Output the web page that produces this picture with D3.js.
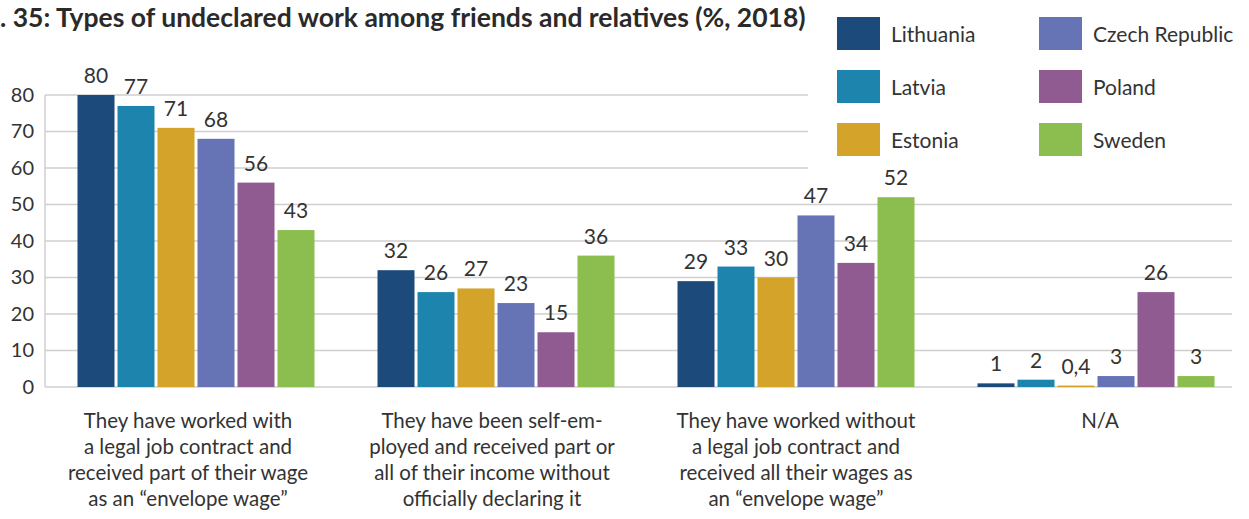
<!DOCTYPE html>
<html><head><meta charset="utf-8">
<script src="https://cdn.jsdelivr.net/npm/d3@7"></script>
<style>body{margin:0;background:#fff;}svg{display:block;font-family:Lato,"Noto Sans",sans-serif;}</style>
</head><body><svg id="c" width="1249" height="519"></svg>
<script>
const title = ". 35: Types of undeclared work among friends and relatives (%, 2018)";
const categories = [
  ["They have worked with","a legal job contract and","received part of their wage","as an \u201cenvelope wage\u201d"],
  ["They have been self-em-","ployed and received part or","all of their income without","officially declaring it"],
  ["They have worked without","a legal job contract and","received all their wages as","an \u201cenvelope wage\u201d"],
  ["N/A"]
];
const countries = ["Lithuania","Latvia","Estonia","Czech Republic","Poland","Sweden"];
const colors = ["#1c4a7a","#1d84ad","#d3a429","#6673b5","#905b90","#8cbd4f"];
const lithuania = [80,32,29,1];
const latvia = [77,26,33,2];
const estonia = [71,27,30,0.4];
const czech = [68,23,47,3];
const poland = [56,15,34,26];
const sweden = [43,36,52,3];
const valueLabels = [
  ["80","32","29","1"],["77","26","33","2"],["71","27","30","0,4"],
  ["68","23","47","3"],["56","15","34","26"],["43","36","52","3"]
];
const yTicks = [0,10,20,30,40,50,60,70,80];

const series = [lithuania,latvia,estonia,czech,poland,sweden];
const svg = d3.select("#c");
const x0 = d3.scaleBand().domain(d3.range(categories.length)).range([46,1246]).paddingInner(0).paddingOuter(0);
const xl = d3.scaleBand().domain(d3.range(categories.length)).range([36,1252]);
const groupW = 237;
const x1 = d3.scaleBand().domain(d3.range(countries.length)).range([0,groupW]).paddingInner(3/40).paddingOuter(0);
const y = d3.scaleLinear().domain([0,80]).range([387,95]);

// grid
const grid = svg.append("g");
grid.selectAll("line").data(yTicks).join("line")
  .attr("x1",45).attr("x2",1232)
  .attr("y1",d=>y(d)).attr("y2",d=>y(d))
  .attr("stroke","#cfcfcf").attr("stroke-width",1.5);
grid.append("line").attr("x1",45).attr("x2",45).attr("y1",y(80)).attr("y2",y(0)).attr("stroke","#cfcfcf").attr("stroke-width",1.5);

// legend background (covers gridlines)
svg.append("rect").attr("x",808).attr("y",0).attr("width",441).attr("height",172).attr("fill","#fff");

// y axis labels
const yAxis = d3.axisLeft(y).tickValues(yTicks).tickSize(0).tickPadding(11);
const ga = svg.append("g").attr("transform","translate(45,0)").call(yAxis);
ga.select(".domain").remove();
ga.selectAll("text").attr("font-size",20).attr("fill","#333").attr("font-family","Lato");

// bars
series.forEach((s,si)=>{
  const g = svg.append("g");
  g.selectAll("rect").data(s).join("rect")
    .attr("x",(d,i)=>x0(i)+(x0.bandwidth()-groupW)/2+x1(si))
    .attr("width",x1.bandwidth())
    .attr("y",d=>y(d)).attr("height",d=>y(0)-y(d))
    .attr("fill",colors[si]);
  g.selectAll("text").data(s).join("text")
    .attr("x",(d,i)=>x0(i)+(x0.bandwidth()-groupW)/2+x1(si)+x1.bandwidth()/2)
    .attr("y",d=>y(d)-12)
    .attr("text-anchor","middle").attr("font-size",21).attr("fill","#333")
    .text((d,i)=>valueLabels[si][i]);
});

// category labels
categories.forEach((lines,i)=>{
  const t = svg.append("text").attr("text-anchor","middle").attr("font-size",20.5).attr("fill","#333");
  lines.forEach((l,j)=>t.append("tspan").attr("x",xl(i)+xl.bandwidth()/2).attr("y",428+26*j).text(l));
});

// legend items
countries.forEach((c,i)=>{
  const col = Math.floor(i/3), row = i%3;
  const lx = 837 + col*202, ly = 17 + row*53;
  svg.append("rect").attr("x",lx).attr("y",ly).attr("width",43).attr("height",33).attr("fill",colors[i]);
  svg.append("text").attr("x",lx+54).attr("y",ly+25).attr("font-size",21).attr("fill","#333").text(c);
});

// title
const tt = svg.append("text").attr("x",0).attr("y",27).attr("font-size",22).attr("font-weight","bold").attr("fill","#2a2a2a").text(title);
const w = tt.node().getComputedTextLength();
tt.attr("font-size", 22*806/w);
</script></body></html>
